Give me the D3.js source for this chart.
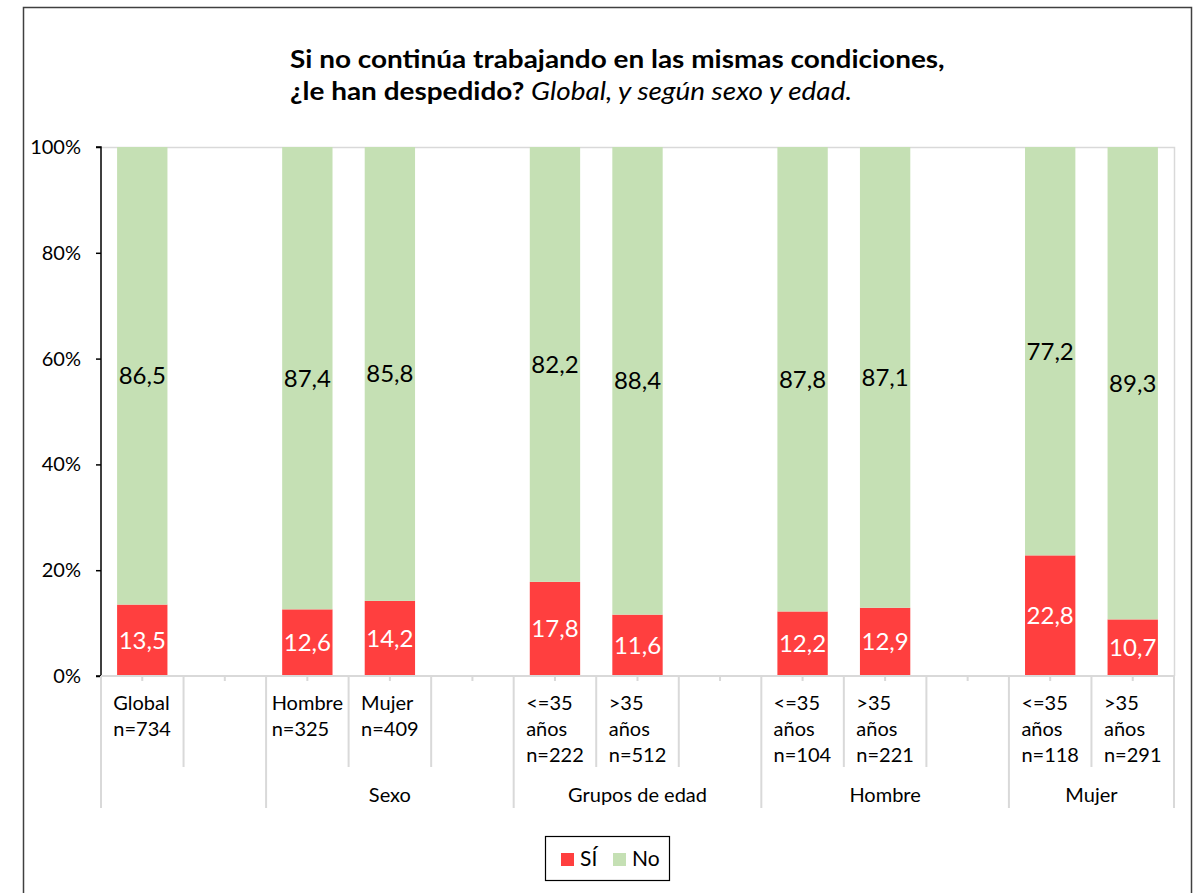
<!DOCTYPE html>
<html lang="es">
<head>
<meta charset="UTF-8">
<script src="https://cdn.jsdelivr.net/npm/d3@7"></script>
<title>Despedido</title>
<style>
  body { margin: 0; background: #fff; }
  svg text { font-family: Lato, "Open Sans", sans-serif; fill: #000; }
</style>
</head>
<body>
<svg id="chart" width="1198" height="893"></svg>
<script>
// slots of the category axis (empty entries are spacer columns)
var slots   = ["g", "b1", "h", "m", "b2", "e1", "e2", "b3", "hm1", "hm2", "b4", "mj1", "mj2"];
var catLabels = [["Global", "n=734"], [], ["Hombre", "n=325"], ["Mujer", "n=409"], [],
                 ["<=35", "años", "n=222"], [">35", "años", "n=512"], [],
                 ["<=35", "años", "n=104"], [">35", "años", "n=221"], [],
                 ["<=35", "años", "n=118"], [">35", "años", "n=291"]];
var groups  = [{name: "", from: 0, to: 1}, {name: "Sexo", from: 2, to: 4},
               {name: "Grupos de edad", from: 5, to: 7}, {name: "Hombre", from: 8, to: 10},
               {name: "Mujer", from: 11, to: 12}];
var si = [13.5, null, 12.6, 14.2, null, 17.8, 11.6, null, 12.2, 12.9, null, 22.8, 10.7];
var no = [86.5, null, 87.4, 85.8, null, 82.2, 88.4, null, 87.8, 87.1, null, 77.2, 89.3];
var yTicks = [0, 20, 40, 60, 80, 100];

var red = "#ff3f3f", green = "#c5e0b4";
var svg = d3.select("#chart");
var pLeft = 101, pRight = 1174, pTop = 147, pBottom = 676;

// outer frame
svg.append("rect").attr("x", 23.5).attr("y", 7.5).attr("width", 1168).attr("height", 900)
   .attr("fill", "none").attr("stroke", "#404040").attr("stroke-width", 1.5);

// title (slightly widened like the original)
var tg = svg.append("g");
var t1 = tg.append("text").attr("x", 0).attr("y", 68).style("font-size", "25px");
t1.append("tspan").style("font-weight", "bold").text("Si no continúa trabajando en las mismas condiciones,");
var t2 = tg.append("text").attr("x", 0).attr("y", 100).style("font-size", "25px");
t2.append("tspan").style("font-weight", "bold").text("¿le han despedido? ");
t2.append("tspan").style("font-style", "italic").text("Global, y según sexo y edad.");
var sx = 655 / t1.node().getComputedTextLength();
tg.attr("transform", "translate(290,0) scale(" + sx + ",1)");

var x = d3.scaleBand().domain(slots).range([pLeft, pRight]).paddingInner(0.39).paddingOuter(0.195);
var step = x.step();
var y = d3.scaleLinear().domain([0, 100]).range([pBottom, pTop]);

// plot border (top/right)
svg.append("path").attr("d", "M" + pLeft + "," + (pTop + 0.5) + "H" + (pRight + 0.5) + "V" + pBottom)
   .attr("fill", "none").attr("stroke", "#d9d9d9").attr("stroke-width", 1.5);

// bars
var bars = slots.map(function(s, i) { return {s: s, si: si[i], no: no[i]}; })
                .filter(function(d) { return d.si != null; });
svg.selectAll(".si").data(bars).enter().append("rect")
   .attr("x", function(d) { return x(d.s); }).attr("width", x.bandwidth())
   .attr("y", function(d) { return y(d.si); })
   .attr("height", function(d) { return y(0) - y(d.si); }).attr("fill", red);
svg.selectAll(".no").data(bars).enter().append("rect")
   .attr("x", function(d) { return x(d.s); }).attr("width", x.bandwidth())
   .attr("y", function(d) { return y(d.si + d.no); })
   .attr("height", function(d) { return y(d.si) - y(d.si + d.no); }).attr("fill", green);

var fmt = function(v) { return d3.format(".1f")(v).replace(".", ","); };
svg.selectAll(".lsi").data(bars).enter().append("text")
   .attr("x", function(d) { return x(d.s) + x.bandwidth() / 2; })
   .attr("y", function(d) { return y(d.si / 2); }).attr("dy", "0.35em")
   .attr("text-anchor", "middle").style("font-size", "24px").style("fill", "#fff")
   .text(function(d) { return fmt(d.si); });
svg.selectAll(".lno").data(bars).enter().append("text")
   .attr("x", function(d) { return x(d.s) + x.bandwidth() / 2; })
   .attr("y", function(d) { return y(d.si + d.no / 2); }).attr("dy", "0.35em")
   .attr("text-anchor", "middle").style("font-size", "24px")
   .text(function(d) { return fmt(d.no); });

// y axis
var yAxis = svg.append("g").attr("transform", "translate(" + pLeft + ",0)")
   .call(d3.axisLeft(y).tickValues(yTicks).tickSize(5).tickPadding(15)
         .tickFormat(function(d) { return d + "%"; }));
yAxis.selectAll("text").style("font-size", "20px").style("fill", "#000");
yAxis.selectAll("line, path").attr("stroke", "#000").attr("stroke-width", 1.5);
yAxis.select(".domain").attr("d", "M-5," + pTop + "H0V" + pBottom + "H-5");

// x axis lines
var gx = svg.append("g").attr("stroke", "#d9d9d9").attr("stroke-width", 2);
gx.append("line").attr("x1", pLeft).attr("x2", pRight).attr("y1", pBottom).attr("y2", pBottom);
var groupEdges = [0].concat(groups.map(function(g) { return g.to + 1; }));
d3.range(slots.length + 1).forEach(function(i) {
  var xx = pLeft + i * step;
  var isGroup = groupEdges.indexOf(i) >= 0;
  gx.append("line").attr("x1", xx).attr("x2", xx).attr("y1", pBottom).attr("y2", isGroup ? 808 : 767);
});
slots.forEach(function(s, i) {
  var xx = pLeft + (i + 0.5) * step;
  gx.append("line").attr("x1", xx).attr("x2", xx).attr("y1", pBottom).attr("y2", pBottom + 5);
});

// category labels: left-aligned lines in a block centred in the slot
catLabels.forEach(function(lines, i) {
  if (!lines.length) return;
  var g = svg.append("g");
  var t = g.append("text").style("font-size", "20px");
  lines.forEach(function(l, k) {
    t.append("tspan").attr("x", 0).attr("y", 710 + k * 26).text(l);
  });
  var w = t.node().getBBox().width;
  g.attr("transform", "translate(" + (pLeft + (i + 0.5) * step - w / 2) + ",0)");
});

// group labels
svg.selectAll(".grp").data(groups).enter().append("text")
   .attr("x", function(g) { return pLeft + (g.from + g.to + 1) / 2 * step; })
   .attr("y", 802).attr("text-anchor", "middle").style("font-size", "20px")
   .text(function(g) { return g.name; });

// legend
var lg = svg.append("g");
lg.append("rect").attr("x", 545.5).attr("y", 836.5).attr("width", 124).attr("height", 44)
  .attr("fill", "#fff").attr("stroke", "#000").attr("stroke-width", 1.2);
var legendItems = [{name: "SÍ", color: red, x: 561}, {name: "No", color: green, x: 613}];
legendItems.forEach(function(d) {
  lg.append("rect").attr("x", d.x).attr("y", 853).attr("width", 13).attr("height", 13).attr("fill", d.color);
  lg.append("text").attr("x", d.x + 19).attr("y", 866).style("font-size", "21px").text(d.name);
});
</script>
</body>
</html>
